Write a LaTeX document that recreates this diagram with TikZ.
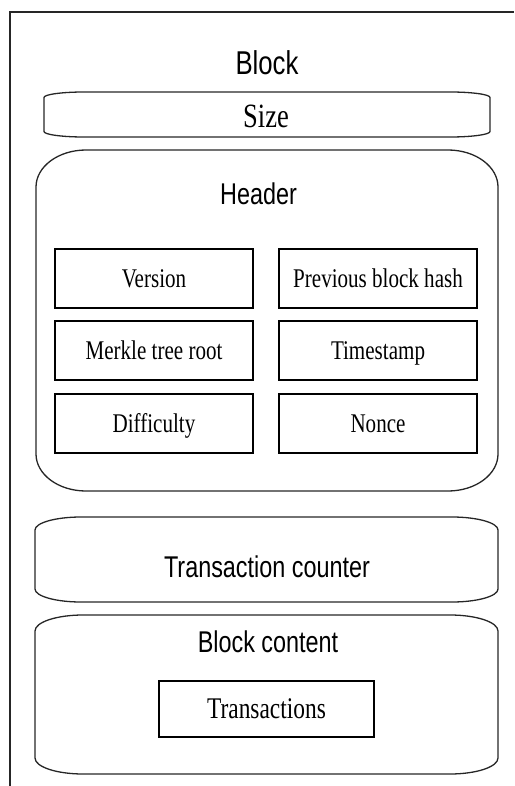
\documentclass[tikz,border=0pt]{standalone}
\usepackage{fontspec}
\newfontfamily\sansf{Liberation Sans}[FakeStretch=0.78]
\newfontfamily\seriff{Liberation Serif}[FakeStretch=0.78]
\newcommand\eframe[3]{%
  \draw[frame] ([xshift=#2]#1.north west) -- ([xshift=-#2]#1.north east)
    arc[start angle=90,end angle=0,x radius=#2,y radius=#3]
    -- ([yshift=#3]#1.south east)
    arc[start angle=0,end angle=-90,x radius=#2,y radius=#3]
    -- ([xshift=#2]#1.south west)
    arc[start angle=270,end angle=180,x radius=#2,y radius=#3]
    -- ([yshift=-#3]#1.north west)
    arc[start angle=180,end angle=90,x radius=#2,y radius=#3] -- cycle;}
\tikzset{
  frame/.style={draw=black!85, line width=1.3pt},
  outerline/.style={draw=black!85, line width=1.6pt},
  area/.style={inner sep=0pt, outer sep=0pt},
  field/.style={draw=black, line width=2.4pt, inner sep=0pt, outer sep=0pt,
    font=\seriff\fontsize{27pt}{32pt}\selectfont, text height=17.5pt, text depth=0pt},
  sanslbl/.style={inner sep=0pt, font=\sansf\fontsize{30pt}{36pt}\selectfont},
}
\begin{document}
\begin{tikzpicture}[x=1pt,y=-1pt]
\useasboundingbox (0,0) rectangle (514,786);
% outer frame (only left and top edges visible)
\coordinate (ob) at (10,786);
\coordinate (oc) at (10,12);
\coordinate (or) at (514,12);
\draw[outerline] (ob) -- (oc) -- (or);

\node[sanslbl, anchor=base, font=\sansf\fontsize{33pt}{40pt}\selectfont] (blocklbl) at (267,75) {Block};

% Size
\node[area, minimum width=446pt, minimum height=45pt] (size) at (267,114.5) {};
\eframe{size}{40pt}{5.5pt}
\node[anchor=base, inner sep=0pt, font=\seriff\fontsize{34pt}{40pt}\selectfont] (sizelbl) at (266,128) {Size};

% Header
\node[area, minimum width=462pt, minimum height=341pt] (header) at (267,320.5) {};
\eframe{header}{50pt}{37pt}
\node[sanslbl, anchor=base] (headerlbl) at (258.5,205) {Header};

\node[field, minimum width=198pt, minimum height=59pt] (version) at (154,278.5) {Version};
\node[field, minimum width=198pt, minimum height=59pt] (prev) at (378,278.5) {Previous block hash};
\node[field, minimum width=198pt, minimum height=59pt] (merkle) at (154,350.5) {Merkle tree root};
\node[field, minimum width=198pt, minimum height=59pt] (time) at (378,350.5) {Timestamp};
\node[field, minimum width=198pt, minimum height=59pt] (diff) at (154,423.5) {Difficulty};
\node[field, minimum width=198pt, minimum height=59pt] (nonce) at (378,423.5) {Nonce};

% Transaction counter
\node[area, minimum width=463pt, minimum height=85pt] (txcount) at (266.5,559.5) {};
\eframe{txcount}{46pt}{13pt}
\node[sanslbl, anchor=base] (txcountlbl) at (267,577) {Transaction counter};

% Block content
\node[area, minimum width=463pt, minimum height=159pt] (content) at (266.5,694.5) {};
\eframe{content}{48pt}{16pt}
\node[sanslbl, anchor=base] (contentlbl) at (268,652) {Block content};
\node[field, minimum width=215pt, minimum height=56pt, font=\seriff\fontsize{30pt}{36pt}\selectfont, text height=19.5pt] (tx) at (266.5,709) {Transactions};
\end{tikzpicture}
\end{document}
